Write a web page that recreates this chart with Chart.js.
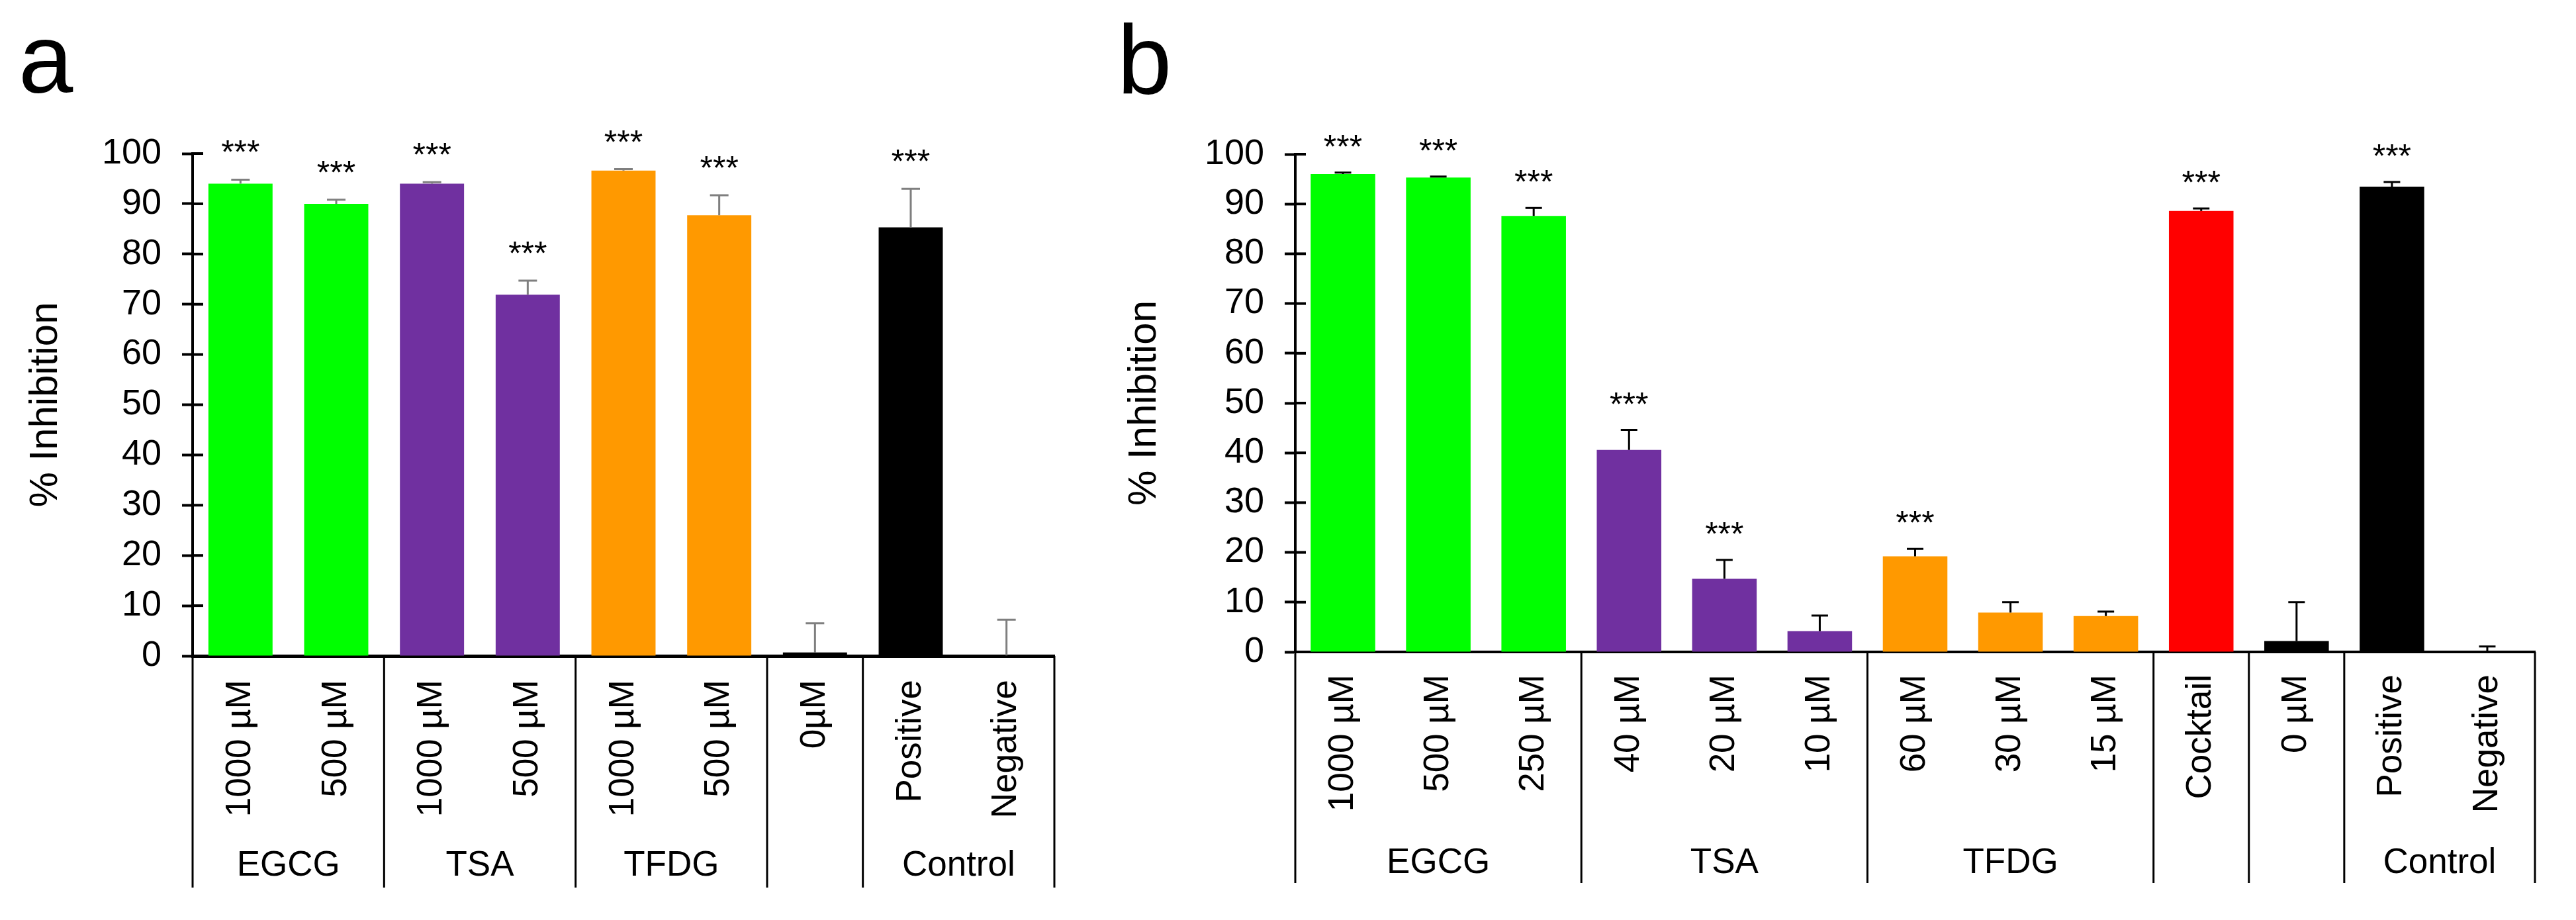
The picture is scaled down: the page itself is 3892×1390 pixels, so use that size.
<!DOCTYPE html>
<html>
<head>
<meta charset="utf-8">
<title>% Inhibition</title>
<script src="https://cdn.jsdelivr.net/npm/chart.js@4.4.1/dist/chart.umd.min.js"></script>
<style>
	html, body { margin: 0; padding: 0; background: #fff; }
	body { position: relative; width: 3892px; height: 1390px; overflow: hidden; font-family: 'Liberation Sans', Arial, sans-serif; }
	.panel { position: absolute; top: 0; height: 1390px; }
	#boxA { left: 0; width: 1700px; }
	#boxB { left: 1650px; width: 2242px; }
	.letter { position: absolute; font-size: 148px; line-height: 1; color: #000; }
</style>
</head>
<body>
<div class="letter" style="left:28px;top:15px">a</div>
<div class="letter" style="left:1688px;top:17px">b</div>
<div class="panel" id="boxA"><canvas id="chartA"></canvas></div>
<div class="panel" id="boxB"><canvas id="chartB"></canvas></div>
<script>
// Panel a data
const labelsA = ['1000 µM', '500 µM', '1000 µM', '500 µM', '1000 µM', '500 µM', '0µM', 'Positive', 'Negative'];
const valuesA = [94.0, 90.0, 94.0, 71.9, 96.6, 87.7, 0.7, 85.3, 0.1];
const errorsA = [0.8, 0.8, 0.3, 2.8, 0.3, 4.0, 5.8, 7.7, 7.1];
const starsA = ['***', '***', '***', '***', '***', '***', '', '***', ''];
const groupNamesA = ['EGCG', 'TSA', 'TFDG', '', 'Control'];
const groupSizesA = [2, 2, 2, 1, 2];

// Panel b data
const labelsB = ['1000 µM', '500 µM', '250 µM', '40 µM', '20 µM', '10 µM', '60 µM', '30 µM', '15 µM', 'Cocktail', '0 µM', 'Positive', 'Negative'];
const valuesB = [96.0, 95.3, 87.6, 40.6, 14.7, 4.2, 19.2, 7.9, 7.2, 88.6, 2.2, 93.5, 0.1];
const errorsB = [0.3, 0.2, 1.6, 4.0, 3.8, 3.1, 1.5, 2.1, 0.9, 0.5, 7.8, 0.9, 1.0];
const starsB = ['***', '***', '***', '***', '***', '', '***', '', '', '***', '', '***', ''];
const groupNamesB = ['EGCG', 'TSA', 'TFDG', '', '', 'Control'];
const groupSizesB = [3, 3, 3, 1, 1, 2];

// Tick values of the y axis
const yMin = 0;
const yMax = 100;
const yStep = 10;

// Colours per group
const FONT = "'Liberation Sans', Arial, sans-serif";
const groupColours = {
	EGCG: '#00ff00',
	TSA: '#7030a0',
	TFDG: '#ff9900',
	Cocktail: '#ff0000',
	Other: '#000000'
};

Chart.defaults.font.family = FONT;
Chart.defaults.color = '#000';

// One colour per bar, from the group it is in
function barColours(names, sizes, labels) {
	const out = [];
	names.forEach((name, g) => {
		for (let k = 0; k < sizes[g]; k++) {
			const i = out.length;
			if (groupColours[name]) out.push(groupColours[name]);
			else if (labels[i] === 'Cocktail') out.push(groupColours.Cocktail);
			else out.push(groupColours.Other);
		}
	});
	return out;
}

// Error bars, stars, inner tick halves, group separators and group labels
function overlay(opt) {
	return {
		id: 'overlay',
		afterDatasetsDraw(chart) {
			const ctx = chart.ctx;
			const x = chart.scales.x;
			const y = chart.scales.y;
			const area = chart.chartArea;
			ctx.save();

			// inner half of the y ticks
			ctx.strokeStyle = '#000';
			ctx.lineWidth = 4;
			y.ticks.forEach((t) => {
				const py = y.getPixelForValue(t.value);
				ctx.beginPath();
				ctx.moveTo(area.left, py);
				ctx.lineTo(area.left + 16, py);
				ctx.stroke();
			});

			// error bars (upper only) and stars
			opt.values.forEach((v, i) => {
				const px = x.getPixelForValue(i);
				const yBase = y.getPixelForValue(v);
				const yTop = y.getPixelForValue(v + opt.errors[i]);
				ctx.strokeStyle = opt.errColour;
				ctx.lineWidth = 3;
				ctx.beginPath();
				ctx.moveTo(px, yBase);
				ctx.lineTo(px, yTop);
				ctx.moveTo(px - opt.capWidth / 2, yTop);
				ctx.lineTo(px + opt.capWidth / 2, yTop);
				ctx.stroke();
				if (opt.stars[i]) {
					ctx.fillStyle = '#000';
					ctx.font = '50px ' + FONT;
					ctx.textAlign = 'center';
					ctx.textBaseline = 'alphabetic';
					ctx.fillText(opt.stars[i], px, yTop - opt.starGap + 28);
				}
			});

			// group separators below the axis, and group names
			let start = 0;
			const edges = [0];
			opt.groupSizes.forEach((s) => { start += s; edges.push(start); });
			ctx.strokeStyle = '#000';
			ctx.lineWidth = 3;
			edges.forEach((k) => {
				const px = x.getPixelForValue(k - 0.5);
				ctx.beginPath();
				ctx.moveTo(px, area.bottom);
				ctx.lineTo(px, opt.sepBottom);
				ctx.stroke();
			});
			ctx.fillStyle = '#000';
			ctx.font = opt.fontSize + 'px ' + FONT;
			ctx.textAlign = 'center';
			ctx.textBaseline = 'middle';
			opt.groupNames.forEach((name, g) => {
				if (!name) return;
				const mid = (x.getPixelForValue(edges[g] - 0.5) + x.getPixelForValue(edges[g + 1] - 0.5)) / 2;
				ctx.fillText(name, mid, opt.groupY);
			});
			ctx.restore();
		}
	};
}

function makeChart(canvas, p) {
	return new Chart(canvas, {
		type: 'bar',
		data: {
			labels: p.labels,
			datasets: [{
				data: p.values,
				backgroundColor: barColours(p.groupNames, p.groupSizes, p.labels),
				borderWidth: 0,
				barPercentage: p.barPct,
				categoryPercentage: 1
			}]
		},
		options: {
			responsive: true,
			maintainAspectRatio: false,
			devicePixelRatio: 1,
			animation: false,
			layout: { padding: { left: 0, right: p.padRight, top: p.padTop, bottom: 0 } },
			plugins: { legend: { display: false }, tooltip: { enabled: false } },
			scales: {
				x: {
					grid: { display: true, drawOnChartArea: false, drawTicks: false },
					border: { display: true, width: p.xBorder, color: '#000' },
					ticks: { autoSkip: false, minRotation: 90, maxRotation: 90, padding: p.labelPad, font: { size: p.fontSize } },
					afterFit: (s) => { s.height = p.xHeight; }
				},
				y: {
					min: yMin,
					max: yMax,
					grid: { drawOnChartArea: false, drawTicks: true, tickLength: 16, tickWidth: 4, tickColor: '#000' },
					border: { display: true, width: 4, color: '#000' },
					ticks: { stepSize: yStep, padding: 31, font: { size: 54 } },
					title: { display: true, text: '% Inhibition', font: { size: 60 }, padding: { top: p.titlePad, bottom: 0 } },
					afterFit: (s) => { s.width = p.yWidth; }
				}
			}
		},
		plugins: [overlay(p)]
	});
}

makeChart(document.getElementById('chartA'), {
	labels: labelsA, values: valuesA, errors: errorsA, stars: starsA,
	groupNames: groupNamesA, groupSizes: groupSizesA,
	errColour: '#7f7f7f', capWidth: 28, starGap: 52,
	sepBottom: 1341, groupY: 1308, fontSize: 53,
	barPct: 0.67, padRight: 107, padTop: 232, xHeight: 399, xBorder: 5,
	labelPad: 36, yWidth: 291, titlePad: 33
});

makeChart(document.getElementById('chartB'), {
	labels: labelsB, values: valuesB, errors: errorsB, stars: starsB,
	groupNames: groupNamesB, groupSizes: groupSizesB,
	errColour: '#000000', capWidth: 25, starGap: 50,
	sepBottom: 1334, groupY: 1304, fontSize: 53,
	barPct: 0.677, padRight: 62, padTop: 233, xHeight: 405, xBorder: 4,
	labelPad: 34, yWidth: 307, titlePad: 43
});
</script>
</body>
</html>
